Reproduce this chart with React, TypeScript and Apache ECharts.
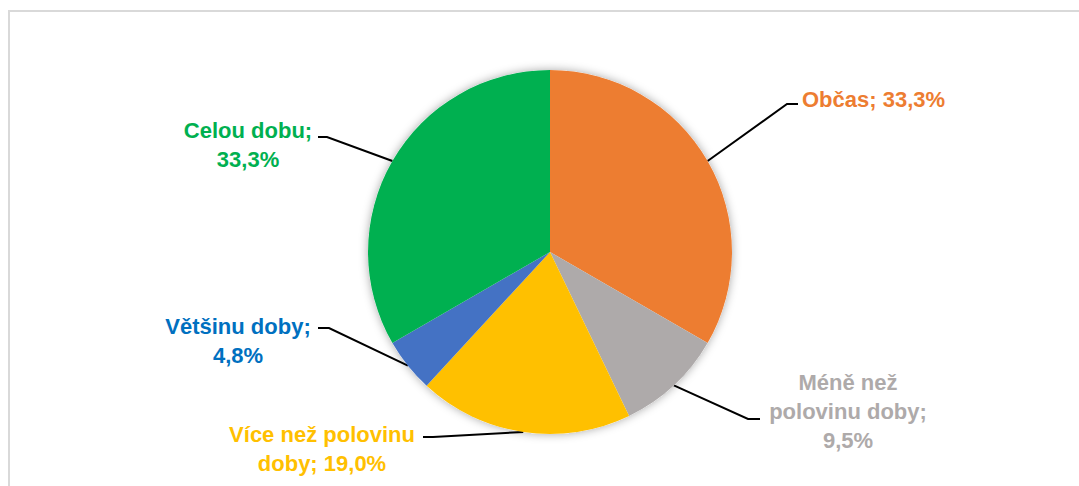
import React, { useEffect, useRef } from "react";
import * as echarts from "echarts";

const categories = ["Občas", "Méně než\npolovinu doby", "Více než polovinu\ndoby", "Většinu doby", "Celou dobu"];
const separators = ["; ", ";\n", "; ", ";\n", ";\n"];
const values = [33.3, 9.5, 19.0, 4.8, 33.3];
const sliceColors = ["#ED7D31", "#AEAAAA", "#FFC000", "#4472C4", "#00B050"];
const labelColors = ["#ED7D31", "#AEAAAA", "#FFC000", "#0070C0", "#00B050"];
// label anchor x, y, align; leader elbow and end points
const labelPos: [number, number, string][] = [
  [802, 99, "left"],
  [848, 411, "center"],
  [322, 449, "center"],
  [238, 341, "center"],
  [248, 145, "center"],
];
const leaderPts: [number, number][][] = [
  [[787, 104], [798, 104]],
  [[748, 419], [760, 419]],
  [[433, 437], [423, 437]],
  [[329, 328], [318, 328]],
  [[327, 137], [318, 137]],
];

export default function App() {
  const ref = useRef<HTMLDivElement>(null);
  useEffect(() => {
    const chart = echarts.init(ref.current!, null, { renderer: "svg" });
    chart.setOption({
      animation: false,
      backgroundColor: "#ffffff",
      graphic: [
        {
          type: "rect",
          shape: { x: 9, y: 11, width: 1100, height: 600 },
          style: { fill: "none", stroke: "#d9d9d9", lineWidth: 2 },
          silent: true,
        },
      ],
      series: [
        {
          type: "pie",
          silent: true,
          center: [550, 252],
          radius: 182,
          label: { show: false },
          labelLine: { show: false },
          itemStyle: { color: "#ffffff", shadowBlur: 10, shadowColor: "rgba(0,0,0,0.35)" },
          data: [{ value: 1, name: "_bg" }],
          z: 1,
        },
        {
          type: "pie",
          center: [550, 252],
          radius: 182,
          startAngle: 90,
          clockwise: true,
          z: 2,
          data: categories.map((c, i) => ({
            name: c,
            value: values[i],
            itemStyle: { color: sliceColors[i] },
            label: { color: labelColors[i] },
          })),
          label: {
            show: true,
            position: "outside",
            fontFamily: "Liberation Sans",
            fontWeight: "bold",
            fontSize: 22,
            lineHeight: 29,
            formatter: (p: any) =>
              p.name + separators[p.dataIndex] + p.value.toFixed(1).replace(".", ",") + "%",
          },
          labelLine: {
            show: true,
            length: 20,
            length2: 10,
            lineStyle: { color: "#000000", width: 2 },
          },
          labelLayout: (p: any) => {
            const lp = labelPos[p.dataIndex];
            const start = p.labelLinePoints ? p.labelLinePoints[0] : null;
            const res: any = {
              x: lp[0],
              y: lp[1],
              align: lp[2],
              verticalAlign: "middle",
            };
            if (start) res.labelLinePoints = [start, ...leaderPts[p.dataIndex]];
            return res;
          },
        },
      ],
    });
    return () => chart.dispose();
  }, []);
  return (
    <div
      ref={ref}
      style={{ position: "fixed", left: 0, top: 0, width: 1079, height: 486 }}
    />
  );
}
